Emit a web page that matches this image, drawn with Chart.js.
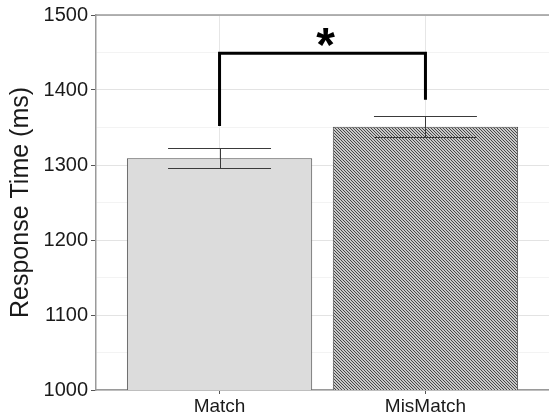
<!DOCTYPE html>
<html>
<head>
<meta charset="utf-8">
<script src="https://cdn.jsdelivr.net/npm/chart.js@4.4.1/dist/chart.umd.min.js"></script>
<style>
  html, body { margin: 0; padding: 0; background: #ffffff; }
  #wrap { width: 549px; height: 419px; }
</style>
</head>
<body>
<div id="wrap"><canvas id="c" width="549" height="419"></canvas></div>
<script>
// Condition labels and mean response times (ms)
const categories = ['Match', 'MisMatch'];
const meanRT = [1309, 1351];
// Standard error of each mean (ms)
const stdErr = [13.5, 14];
// Significance bracket: top of bracket and lower end of each leg (ms)
const bracketTop = 1449;
const bracketLegEnds = [1352, 1387];
const sigLabel = '*';
const sigLabelY = 1472;
// Y axis range and tick step
const yMin = 1000, yMax = 1500, yStep = 50;
// Discrete positions: categories sit at 1, 2 with 0.6 units of padding each side
const xMin = 0.4, xMax = 2.6;
const barWidthUnits = 0.9, capWidthUnits = 0.5;

const ctx = document.getElementById('c').getContext('2d');

// Fine diagonal hatch used for the second bar
const hatch = ctx.createPattern((() => {
  const t = document.createElement('canvas');
  t.width = 3; t.height = 3;
  const g = t.getContext('2d');
  g.fillStyle = '#c8c8c8';
  g.fillRect(0, 0, 3, 3);
  g.fillStyle = '#474747';
  for (let i = 0; i < 3; i++) g.fillRect(i, i, 1, 1);
  return t;
})(), 'repeat');

const FONT = '"Liberation Sans", Arial, sans-serif';

// Error bars, top frame line and significance bracket
const overlay = {
  id: 'overlay',
  afterDatasetsDraw(chart) {
    const c = chart.ctx;
    const x = chart.scales.x, y = chart.scales.y;
    const area = chart.chartArea;
    c.save();
    // top frame line
    c.strokeStyle = '#9a9a9a';
    c.lineWidth = 1.5;
    c.beginPath();
    c.moveTo(area.left, area.top);
    c.lineTo(area.right, area.top);
    c.stroke();

    // error bars
    c.strokeStyle = '#3a3a3a';
    c.lineWidth = 1;
    meanRT.forEach((m, i) => {
      const pos = i + 1;
      const cx = Math.round(x.getPixelForValue(pos)) + 0.5;
      const xl = x.getPixelForValue(pos - capWidthUnits / 2);
      const xr = x.getPixelForValue(pos + capWidthUnits / 2);
      const yt = Math.round(y.getPixelForValue(m + stdErr[i])) + 0.5;
      const yb = Math.round(y.getPixelForValue(m - stdErr[i])) + 0.5;
      c.beginPath();
      c.moveTo(cx, yt); c.lineTo(cx, yb);
      c.moveTo(xl, yt); c.lineTo(xr, yt);
      c.moveTo(xl, yb); c.lineTo(xr, yb);
      c.stroke();
    });

    // significance bracket
    const x0 = x.getPixelForValue(1), x1 = x.getPixelForValue(2);
    const yTop = y.getPixelForValue(bracketTop);
    c.strokeStyle = '#000000';
    c.lineWidth = 3;
    c.lineJoin = 'miter';
    c.beginPath();
    c.moveTo(x0, y.getPixelForValue(bracketLegEnds[0]));
    c.lineTo(x0, yTop);
    c.lineTo(x1, yTop);
    c.lineTo(x1, y.getPixelForValue(bracketLegEnds[1]));
    c.stroke();

    c.fillStyle = '#000000';
    c.font = 'bold 48px ' + FONT;
    c.textAlign = 'center';
    c.textBaseline = 'middle';
    c.fillText(sigLabel, (x0 + x1) / 2 + 3, y.getPixelForValue(sigLabelY) + 12);
    c.restore();
  }
};

new Chart(ctx, {
  type: 'bar',
  data: {
    datasets: [{
      data: meanRT.map((v, i) => ({ x: i + 1, y: v })),
      backgroundColor: ['#dcdcdc', hatch],
      borderColor: '#4d4d4d',
      borderWidth: 1,
      borderSkipped: false,
      barPercentage: barWidthUnits,
      categoryPercentage: 1.0
    }]
  },
  options: {
    responsive: false,
    animation: false,
    devicePixelRatio: 1,
    layout: { padding: { top: 14, right: 0, left: 0, bottom: 0 } },
    plugins: {
      legend: { display: false },
      tooltip: { enabled: false }
    },
    scales: {
      x: {
        type: 'linear',
        min: xMin,
        max: xMax,
        offset: false,
        afterBuildTicks(scale) {
          scale.ticks = categories.map((_, i) => ({ value: i + 1 }));
        },
        grid: {
          offset: false,
          color: '#e6e6e6',
          tickLength: 4,
          tickColor: '#555555'
        },
        border: { color: '#9a9a9a', width: 1.5 },
        ticks: {
          color: '#1a1a1a',
          font: { family: FONT, size: 19 },
          padding: 1,
          maxRotation: 0,
          autoSkip: false,
          callback: (v) => categories[Math.round(v) - 1] || ''
        },
        afterFit(scale) { scale.height = 29; }
      },
      y: {
        min: yMin,
        max: yMax,
        grid: {
          color: (c) => (c.tick && c.tick.value % 100 === 0) ? '#e3e3e3' : '#f3f3f3',
          tickColor: (c) => (c.tick && c.tick.value % 100 === 0) ? '#555555' : 'rgba(0,0,0,0)',
          tickLength: 5
        },
        border: { color: '#9a9a9a', width: 1.5 },
        ticks: {
          stepSize: yStep,
          color: '#1a1a1a',
          font: { family: FONT, size: 20 },
          padding: 3,
          callback: (v) => (v % 100 === 0) ? String(v) : ''
        },
        title: {
          display: true,
          text: 'Response Time (ms)',
          color: '#1a1a1a',
          font: { family: FONT, size: 25 },
          padding: { top: 6, bottom: 2 }
        },
        afterFit(scale) { scale.width = 96; }
      }
    }
  },
  plugins: [overlay]
});
</script>
</body>
</html>
